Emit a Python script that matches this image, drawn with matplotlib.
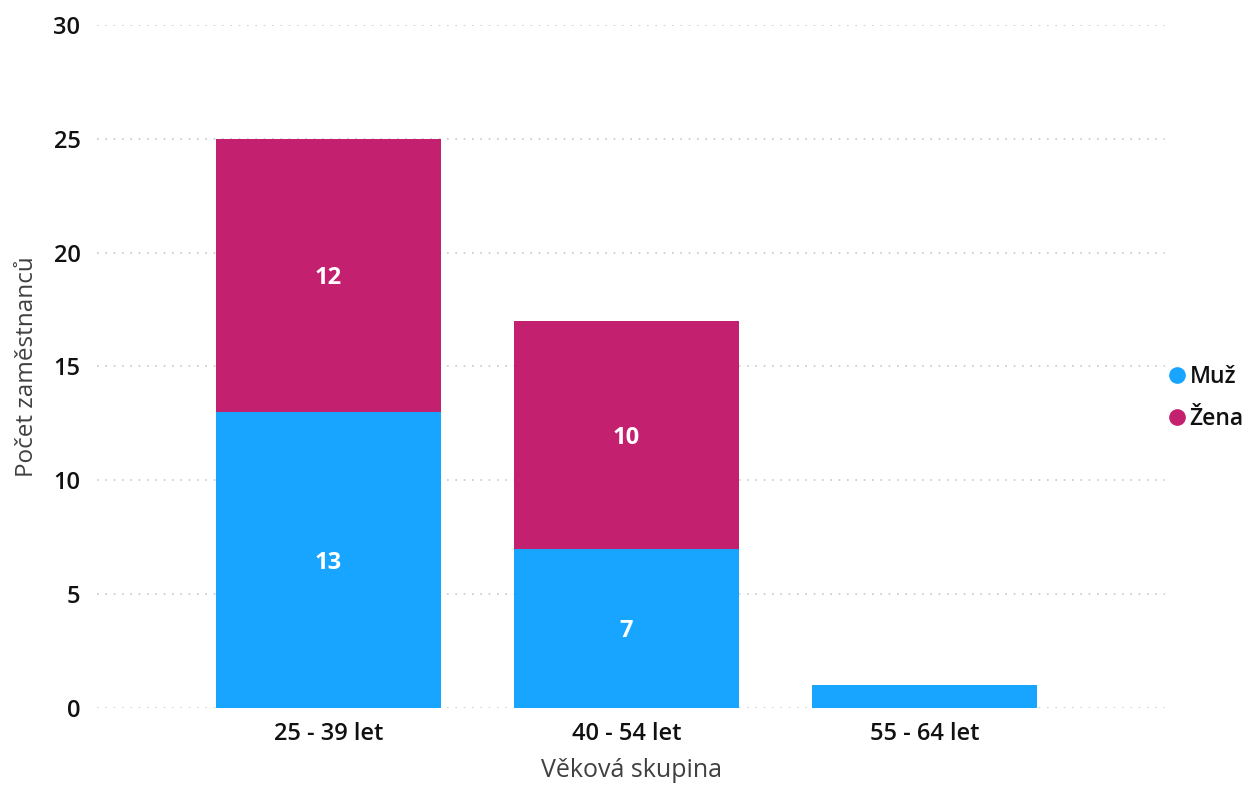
import matplotlib.pyplot as plt
from matplotlib.lines import Line2D

plt.rcParams['font.family'] = ['Open Sans', 'DejaVu Sans']

skupiny = ["25 - 39 let", "40 - 54 let", "55 - 64 let"]
muz = [13, 7, 1]
zena = [12, 10, 0]

modra = '#17A5FF'
ruzova = '#C3216F'

fig = plt.figure(figsize=(12.49, 7.85), dpi=100)
ax = fig.add_axes([0.0777, 0.0981, 0.8551, 0.8701])

x = list(range(len(skupiny)))
sirka = 0.755
ax.bar(x, muz, width=sirka, color=modra, zorder=3)
ax.bar(x, zena, width=sirka, bottom=muz, color=ruzova, zorder=3)

# popisky v segmentech (malé hodnoty se nevejdou)
for i in x:
    if muz[i] >= 3:
        ax.text(i, muz[i] / 2, str(muz[i]), ha='center', va='center_baseline',
                color='white', fontsize=17, fontweight='bold', zorder=4)
    if zena[i] >= 3:
        ax.text(i, muz[i] + zena[i] / 2, str(zena[i]), ha='center', va='center_baseline',
                color='white', fontsize=17, fontweight='bold', zorder=4)

ax.set_xlim(-0.777, 2.807)
ax.set_ylim(0, 30)
ax.set_yticks([0, 5, 10, 15, 20, 25, 30])
ax.set_xticks(x)
ax.set_xticklabels(skupiny)

for s in ax.spines.values():
    s.set_visible(False)
ax.tick_params(axis='both', length=0, labelsize=17, labelcolor='#111111')
ax.tick_params(axis='y', pad=12)
ax.tick_params(axis='x', pad=10)
for lab in ax.get_xticklabels() + ax.get_yticklabels():
    lab.set_fontweight('semibold')

ax.yaxis.grid(True, color='#C8C8C8', linestyle=(0, (1, 4)), linewidth=1.2, zorder=0)
ax.set_axisbelow(True)

ax.set_xlabel("Věková skupina", fontsize=18, color='#404040', labelpad=9)
ax.set_ylabel("Počet zaměstnanců", fontsize=17.5, color='#404040', labelpad=10)

handles = [Line2D([], [], marker='o', linestyle='', color=modra, markersize=11),
           Line2D([], [], marker='o', linestyle='', color=ruzova, markersize=11)]
leg = fig.legend(handles, ["Muž", "Žena"], loc='center left',
                 bbox_to_anchor=(0.935, 0.493), frameon=False,
                 handletextpad=0.15, labelspacing=0.75, handlelength=0.8,
                 borderaxespad=0, borderpad=0,
                 prop={'size': 16.5, 'weight': 'semibold'})
for t in leg.get_texts():
    t.set_color('#111111')

fig.savefig('out.png', dpi=100)
